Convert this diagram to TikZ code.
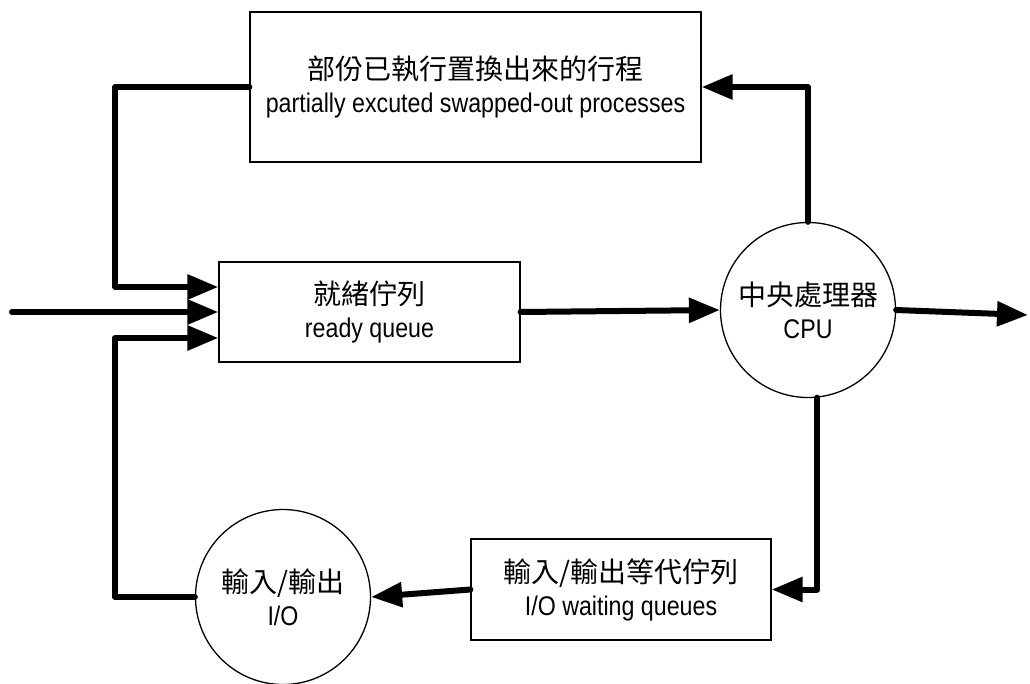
\documentclass[tikz,border=0pt]{standalone}
\usepackage{fontspec}
\setmainfont{Liberation Sans}[FakeStretch=0.86]
\newfontfamily\cjk{Noto Sans CJK TC}
\usetikzlibrary{arrows.meta}
\newcommand\zhtext[1]{{\cjk\fontsize{28pt}{33pt}\selectfont #1}}
\begin{document}
\begin{tikzpicture}[x=1pt,y=-1pt,
  box/.style={draw,line width=1.3pt,align=center,inner sep=0pt,
    font=\fontsize{27pt}{33pt}\selectfont},
  proc/.style={draw,circle,line width=1.3pt,align=center,inner sep=0pt,
    minimum size=175pt,font=\fontsize{27pt}{33pt}\selectfont},
  flow/.style={line width=6pt,line cap=round,line join=round,
    -{Triangle[length=31pt,width=24pt]}},
]
\useasboundingbox (0,0) rectangle (1030,683);

% queues and processors
\node[box,minimum width=451pt,minimum height=150pt] (swap) at (475.5,87)
  {\zhtext{部份已執行置換出來的行程}\\partially excuted swapped-out processes};
\node[box,minimum width=301pt,minimum height=100pt] (ready) at (369.5,312)
  {\zhtext{就緒佇列}\\ready queue};
\node[proc] (cpu) at (808,310) {\zhtext{中央處理器}\\CPU};
\node[box,minimum width=300pt,minimum height=101pt] (ioq) at (621,589.5)
  {\zhtext{輸入/輸出等代佇列}\\I/O waiting queues};
\node[proc] (io) at (283,597) {\zhtext{輸入/輸出}\\I/O};

% free ends
\coordinate (entry) at (12,312);
\coordinate (exit) at (1028,315);

% flows
\draw[flow] (swap.west) -- ++(-134,0) |- ([yshift=25pt]ready.west);
\draw[flow] (entry) -- (ready.west);
\draw[flow] (io.west) -- ++(-80,0) |- ([yshift=-26pt]ready.west);
\draw[flow] (ready.east) -- (cpu.west);
\draw[flow] (cpu.east) -- (exit);
\draw[flow] (cpu.north) |- (swap.east);
\draw[flow] (cpu.-84) |- (ioq.east);
\draw[flow] (ioq.west) -- (io.east);
\end{tikzpicture}
\end{document}
